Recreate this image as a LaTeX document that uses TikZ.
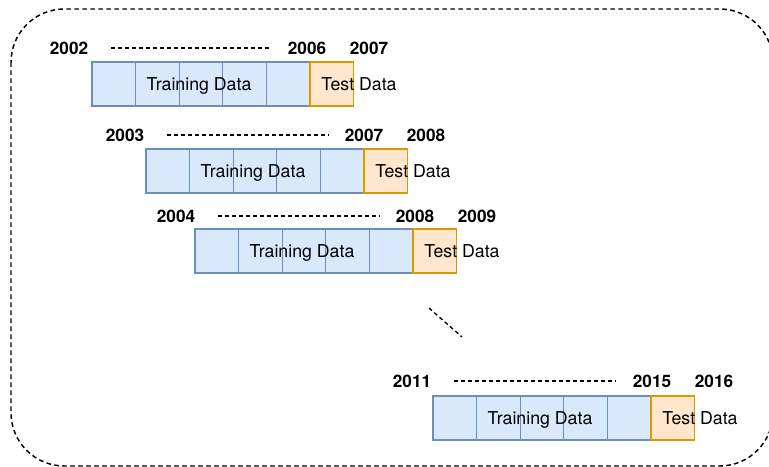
\documentclass[tikz,border=0pt]{standalone}
\usepackage{fontspec}
\setmainfont{TeX Gyre Heros}
\usetikzlibrary{positioning}

\definecolor{trainfill}{HTML}{DAE8FC}
\definecolor{trainline}{HTML}{6C8EBF}
\definecolor{testfill}{HTML}{FFE6CC}
\definecolor{testline}{HTML}{D79B00}

\tikzset{
  train/.style={draw=trainline, fill=trainfill, line width=1pt, minimum width=32.7pt, minimum height=33pt, inner sep=0pt, outer sep=0pt},
  test/.style={train, draw=testline, fill=testfill},
  year/.style={font=\bfseries\fontsize{12.9}{15}\selectfont},
  txt/.style={font=\fontsize{13.3}{15}\selectfont, text depth=0pt},
  gap/.style={line width=1pt, dash pattern=on 3pt off 2.25pt}
}

\begin{document}
\begin{tikzpicture}[x=0.75pt,y=-0.75pt]

\useasboundingbox (0,0) rectangle (769,467);
\clip (0,0) rectangle (769,467);

\draw[line width=1.1pt, dash pattern=on 3.5pt off 2.5pt, rounded corners=40pt] (11,9) rectangle (773,466);

% first window
\node[train, anchor=north west] (a1) at (92,62) {};
\node[train, right=0pt of a1] (a2) {};
\node[train, right=0pt of a2] (a3) {};
\node[train, right=0pt of a3] (a4) {};
\node[train, right=0pt of a4] (a5) {};
\node[test, right=0pt of a5] (a6) {};
\node[txt] (atrain) at ([xshift=-1.5pt]a3) {Training Data};
\node[txt] (atest) at ([xshift=36.75pt]a6.west) {Test Data};
\node[year] (ay0) at (69,48) {2002};
\node[year] (ay5) at (307,48) {2006};
\node[year] (ay6) at (369,48) {2007};
\draw[gap] ([xshift=13.5pt]ay0.east) -- ([xshift=-9pt]ay5.west);

% second window
\node[train, anchor=north west] (b1) at (146,149) {};
\node[train, right=0pt of b1] (b2) {};
\node[train, right=0pt of b2] (b3) {};
\node[train, right=0pt of b3] (b4) {};
\node[train, right=0pt of b4] (b5) {};
\node[test, right=0pt of b5] (b6) {};
\node[txt] (btrain) at ([xshift=-1.5pt]b3) {Training Data};
\node[txt] (btest) at ([xshift=36.75pt]b6.west) {Test Data};
\node[year] (by0) at (125,135) {2003};
\node[year] (by5) at (364,135) {2007};
\node[year] (by6) at (426,135) {2008};
\draw[gap] ([xshift=13.5pt]by0.east) -- ([xshift=-9pt]by5.west);

% third window
\node[train, anchor=north west] (c1) at (195,229) {};
\node[train, right=0pt of c1] (c2) {};
\node[train, right=0pt of c2] (c3) {};
\node[train, right=0pt of c3] (c4) {};
\node[train, right=0pt of c4] (c5) {};
\node[test, right=0pt of c5] (c6) {};
\node[txt] (ctrain) at ([xshift=-1.5pt]c3) {Training Data};
\node[txt] (ctest) at ([xshift=36.75pt]c6.west) {Test Data};
\node[year] (cy0) at (176,216) {2004};
\node[year] (cy5) at (415,216) {2008};
\node[year] (cy6) at (477,216) {2009};
\draw[gap] ([xshift=13.5pt]cy0.east) -- ([xshift=-9pt]cy5.west);

% skipped windows
\coordinate (skip1) at (429,308);
\coordinate (skip2) at (462,337);
\draw[gap] (skip1) -- (skip2);

% last window
\node[train, anchor=north west] (d1) at (433,396) {};
\node[train, right=0pt of d1] (d2) {};
\node[train, right=0pt of d2] (d3) {};
\node[train, right=0pt of d3] (d4) {};
\node[train, right=0pt of d4] (d5) {};
\node[test, right=0pt of d5] (d6) {};
\node[txt] (dtrain) at ([xshift=-1.5pt]d3) {Training Data};
\node[txt] (dtest) at ([xshift=36.75pt]d6.west) {Test Data};
\node[year] (dy0) at (412,381) {2011};
\node[year] (dy5) at (652,381) {2015};
\node[year] (dy6) at (714,381) {2016};
\draw[gap] ([xshift=13.5pt]dy0.east) -- ([xshift=-9pt]dy5.west);

\end{tikzpicture}
\end{document}
